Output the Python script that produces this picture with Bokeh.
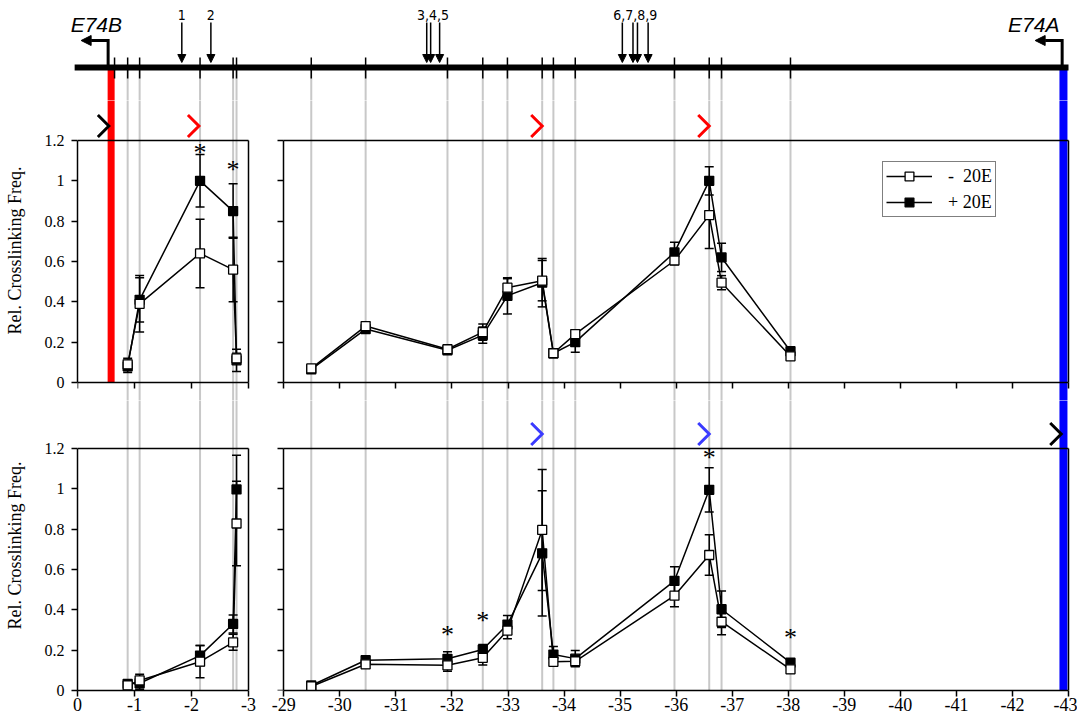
from bokeh.plotting import figure
from bokeh.layouts import column, row
from bokeh.models import (Range1d, LinearAxis, FixedTicker, ColumnDataSource, Whisker,
                          TeeHead, Legend, LegendItem, Arrow, NormalHead)
from bokeh.core.properties import value
from bokeh.embed import file_html
from bokeh.resources import INLINE

# ---------------- data ----------------
# fragment ends (kb) in the left block (near E74B) and the right block (near E74A)
frag_left = [-0.88, -1.09, -2.15, -2.73, -2.79]
frag_right = [-29.49, -30.46, -31.92, -32.55, -32.99, -33.61, -33.81,
              -34.20, -35.97, -36.59, -36.81, -38.04]
extra_map_tick_left = [-0.65]
e74b_promoter = -0.59
e74a_promoter = -42.91
track_start_left = 0.05
track_end_right = -43.0

site_labels = ["1", "2", "3,4,5", "6,7,8,9"]
site_label_pos = [-1.83, -2.34, -31.66, -35.27]
site_label_block = ["L", "L", "R", "R"]
sites_left = [-1.83, -2.34]
sites_right = [-31.55, -31.62, -31.78, -35.04, -35.23, -35.31, -35.50]

# top row (E74B anchor)
tl_minus = [0.09, 0.39, 0.64, 0.56, 0.12]
tl_minus_err = [0.03, 0.14, 0.17, 0.16, 0.025]
tl_plus = [0.08, 0.41, 1.00, 0.85, 0.11]
tl_plus_err = [0.03, 0.11, 0.13, 0.135, 0.055]

tr_minus = [0.07, 0.28, 0.165, 0.25, 0.47, 0.505, 0.145, 0.24, 0.605, 0.83, 0.495, 0.13]
tr_minus_err = [0.01, 0.02, 0.01, 0.04, 0.045, 0.10, 0.02, 0.02, 0.02, 0.165, 0.035, 0.01]
tr_plus = [0.065, 0.265, 0.16, 0.235, 0.43, 0.495, 0.145, 0.20, 0.645, 1.00, 0.62, 0.155]
tr_plus_err = [0.01, 0.02, 0.01, 0.04, 0.09, 0.12, 0.02, 0.05, 0.05, 0.07, 0.07, 0.01]

# bottom row (E74A anchor)
bl_minus = [0.025, 0.05, 0.143, 0.239, 0.828]
bl_minus_err = [0.01, 0.03, 0.08, 0.04, 0.21]
bl_plus = [0.033, 0.036, 0.173, 0.33, 0.997]
bl_plus_err = [0.01, 0.03, 0.05, 0.045, 0.17]

br_minus = [0.02, 0.13, 0.125, 0.162, 0.297, 0.796, 0.142, 0.145, 0.47, 0.672, 0.341, 0.105]
br_minus_err = [0.01, 0.02, 0.03, 0.035, 0.04, 0.30, 0.02, 0.025, 0.055, 0.10, 0.065, 0.02]
br_plus = [0.025, 0.15, 0.157, 0.203, 0.327, 0.68, 0.178, 0.158, 0.544, 0.995, 0.403, 0.138]
br_plus_err = [0.01, 0.02, 0.035, 0.025, 0.045, 0.31, 0.04, 0.04, 0.07, 0.11, 0.09, 0.02]

sig_tl_x = [-2.15, -2.73]
sig_tl_y = [1.15, 1.066]
sig_br_x = [-31.92, -32.55, -36.59, -38.04]
sig_br_y = [0.29, 0.355, 1.163, 0.274]

chev_tl_x = [-0.55, -2.13]
chev_tl_col = ["black", "#ff0000"]
chev_tr_x = [-33.61, -36.59]
chev_tr_col = ["#ff0000", "#ff0000"]
chev_br_x = [-33.61, -36.59, -42.87]
chev_br_col = ["#3b3bff", "#3b3bff", "black"]

y_ticks = [0, 0.2, 0.4, 0.6, 0.8, 1, 1.2]
x_ticks_left = [0, -1, -2, -3]
x_ticks_right = list(range(-29, -44, -1))
legend_labels = ["-\u00a0\u00a020E", "+ 20E"]
y_title = "Rel. Crosslinking Freq."

# ---------------- layout (page pixels) ----------------
TOTAL_W = 1077
SPLIT = 265            # x where left column ends
ROW0_H, ROW1_H, ROW2_H = 100, 300, 318
LX0, LS = 77.0, 57.0      # left block: px of 0 kb, px per kb
RX0, RS = 283.3, 56.05    # right block: px of -29 kb, px per kb
YS = 242 / 1.2            # px per unit of rel. frequency
TOP_ZERO = 382            # page y of y=0 in top row
BOTTOM_AXIS_H = 28
TRACK = 67
TRACK_FRAME_L = 60
GRAY = "#c8c8c8"
SERIF = "Liberation Serif"


def lx(px):
    return (LX0 - px) / LS


def rx(px):
    return -29 - (px - RX0) / RS


def make_fig(w, h, xr, yr, left=0, bottom=0):
    f = figure(width=w, height=h, x_range=xr, y_range=yr, x_axis_type=None, y_axis_type=None,
               toolbar_location=None, output_backend="svg",
               min_border_left=left, min_border_right=0, min_border_top=0,
               min_border_bottom=bottom)
    f.outline_line_color = None
    return f


def add_axis(f, side, loc, bounds, ticks, labels=False, title=None):
    kw = dict(bounds=bounds, ticker=FixedTicker(ticks=ticks))
    if loc is not None:
        kw["fixed_location"] = loc
    ax = LinearAxis(**kw)
    ax.axis_line_width = 1.5
    ax.axis_line_color = "black"
    ax.major_tick_line_width = 1.5
    ax.major_tick_line_color = "black"
    ax.major_tick_out = 6 if ticks else 0
    ax.major_tick_in = 0
    ax.minor_tick_line_color = None
    ax.major_label_text_font = SERIF
    ax.major_label_text_color = "black" if labels else None
    ax.major_label_text_font_size = "18px" if side == "below" else "16px"
    ax.major_label_standoff = 1 if side == "below" else 7
    if side in ("left", "right"):
        ax.major_label_overrides = {0: "0", 1: "1"}
    else:
        ax.major_label_overrides = {tk: str(tk) for tk in ticks}
    if title:
        ax.axis_label = title
        ax.axis_label_text_font = SERIF
        ax.axis_label_text_font_style = "normal"
        ax.axis_label_text_font_size = "18px"
        ax.axis_label_text_color = "black"
        ax.axis_label_standoff = 17
    f.add_layout(ax, side)
    return ax


def series(f, xs, ys, errs, filled):
    src = ColumnDataSource(dict(x=xs, y=ys, lo=[a - e for a, e in zip(ys, errs)],
                                up=[a + e for a, e in zip(ys, errs)]))
    f.add_layout(Whisker(source=src, base="x", upper="up", lower="lo", dimension="height",
                         line_color="black", line_width=1.5,
                         upper_head=TeeHead(size=9, line_width=1.5, line_color="black"),
                         lower_head=TeeHead(size=9, line_width=1.5, line_color="black")))
    lr = f.line("x", "y", source=src, line_color="black", line_width=1.5)
    sr = f.scatter("x", "y", source=src, marker="square", size=9,
                   fill_color=("black" if filled else "white"), line_color="black",
                   line_width=1.3)
    return lr, sr


def chevrons(f, xs, cols, sx):
    cy = 1.2 + 14.5 / YS
    xl = [[x + 11 / sx, x, x + 11 / sx] for x in xs]
    yl = [[cy + 11 / YS, cy, cy - 11 / YS] for _ in xs]
    f.multi_line(xl, yl, line_color=cols, line_width=3, line_join="miter")


def gray_lines(f, xs, y0, y1):
    f.segment(x0=xs, y0=[y0] * len(xs), x1=xs, y1=[y1] * len(xs),
              line_color=GRAY, line_width=2, level="image")


def asterisks(f, xs, ys):
    f.text(x=xs, y=ys, text=["*"] * len(xs), text_font=value(SERIF), text_font_size="26px",
           text_align="center", text_baseline="middle", y_offset=2, text_color="black")


# ================= row 0: gene map =================
t = make_fig(TOTAL_W, ROW0_H, Range1d(lx(TRACK_FRAME_L), lx(TOTAL_W)),
             Range1d(-(ROW0_H - TRACK), TRACK), left=TRACK_FRAME_L)
t.extra_x_ranges = {"R": Range1d(rx(TRACK_FRAME_L), rx(TOTAL_W))}
ybot = -(ROW0_H - TRACK) - 5
t.segment(x0=frag_left, y0=[0] * 5, x1=frag_left, y1=[ybot] * 5, line_color=GRAY,
          line_width=2, level="image")
t.segment(x0=frag_right, y0=[0] * len(frag_right), x1=frag_right, y1=[ybot] * len(frag_right),
          line_color=GRAY, line_width=2, level="image", x_range_name="R")
t.segment(x0=[e74b_promoter], y0=[0], x1=[e74b_promoter], y1=[ybot], line_color="#ff0000",
          line_width=7, line_cap="butt", level="image")
t.segment(x0=[e74a_promoter], y0=[0], x1=[e74a_promoter], y1=[ybot], line_color="#0000ff",
          line_width=8, line_cap="butt", level="image", x_range_name="R")
# the map line runs continuously from the left block start to the right block end
track_start_px = LX0 - LS * track_start_left
t.segment(x0=[rx(track_start_px)], y0=[0], x1=[track_end_right], y1=[0], line_color="black",
          line_width=6, line_cap="butt", x_range_name="R")
tk = frag_left + extra_map_tick_left
t.segment(x0=tk, y0=[-11] * len(tk), x1=tk, y1=[10] * len(tk), line_color="black", line_width=1.5)
t.segment(x0=frag_right, y0=[-11] * len(frag_right), x1=frag_right, y1=[10] * len(frag_right),
          line_color="black", line_width=1.5, x_range_name="R")

vb = e74b_promoter + 3 / LS
t.line([vb, vb, vb + 14 / LS], [0, 27, 27], line_color="black", line_width=3, line_join="miter")
t.add_layout(Arrow(x_start=vb + 10 / LS, y_start=27, x_end=vb + 27 / LS, y_end=27,
                   end=NormalHead(size=10, fill_color="black", line_color="black", line_width=1),
                   line_width=3, line_color="black"))
va = e74a_promoter + 1.3 / RS
t.line([va, va, va + 14 / RS], [0, 27, 27], line_color="black", line_width=3,
       line_join="miter", x_range_name="R")
t.add_layout(Arrow(x_start=va + 10 / RS, y_start=27, x_end=va + 27 / RS, y_end=27,
                   end=NormalHead(size=10, fill_color="black", line_color="black", line_width=1),
                   line_width=3, line_color="black", x_range_name="R"))
t.text(x=[e74b_promoter + 40.5 / LS], y=[43], text=["E74B"],
       text_font=value("Liberation Sans"), text_font_style="italic", text_font_size="21px",
       text_align="left", text_baseline="middle", text_color="black")
t.text(x=[e74a_promoter + 4 / RS], y=[43], text=["E74A"], x_range_name="R",
       text_font=value("Liberation Sans"), text_font_style="italic", text_font_size="21px",
       text_align="right", text_baseline="middle", text_color="black")
for xs, rn in ((sites_left, "default"), (sites_right, "R")):
    for sx in xs:
        t.add_layout(Arrow(x_start=sx, y_start=45, x_end=sx, y_end=5,
                           end=NormalHead(size=8, fill_color="black", line_color="black", line_width=1),
                           line_width=1.5, line_color="black", x_range_name=rn))
for lab, pos, blk in zip(site_labels, site_label_pos, site_label_block):
    t.text(x=[pos], y=[53], text=[lab], x_range_name=("default" if blk == "L" else "R"),
           text_font=value("'Liberation Sans Narrow', 'DejaVu Sans Condensed', sans-serif"),
           text_font_size="14px", text_align="center", text_baseline="middle", text_color="black")

# ================= row 1: E74B anchor =================
top_y0 = ROW0_H
top_yr = (-(top_y0 + ROW1_H - TOP_ZERO) / YS, (TOP_ZERO - top_y0) / YS)

tl = make_fig(SPLIT, ROW1_H, Range1d(lx(LX0), lx(SPLIT)), Range1d(*top_yr), left=int(LX0))
gray_lines(tl, frag_left, top_yr[0] - 0.1, top_yr[1] + 0.1)
tl.segment(x0=[e74b_promoter], y0=[0], x1=[e74b_promoter], y1=[top_yr[1] + 0.1],
           line_color="#ff0000", line_width=7, line_cap="butt", level="image")
chevrons(tl, chev_tl_x, chev_tl_col, LS)
add_axis(tl, "left", None, (0, 1.2), y_ticks, labels=True, title=y_title)
add_axis(tl, "right", -3, (0, 1.2), [])
add_axis(tl, "above", 1.2, (-3, 0), [])
add_axis(tl, "below", 0, (-3, 0), x_ticks_left)
series(tl, frag_left, tl_plus, tl_plus_err, True)
series(tl, frag_left, tl_minus, tl_minus_err, False)
asterisks(tl, sig_tl_x, sig_tl_y)

tr = make_fig(TOTAL_W - SPLIT, ROW1_H, Range1d(rx(SPLIT), rx(TOTAL_W)), Range1d(*top_yr))
gray_lines(tr, frag_right, top_yr[0] - 0.1, top_yr[1] + 0.1)
tr.segment(x0=[e74a_promoter], y0=[top_yr[0] - 0.1], x1=[e74a_promoter], y1=[top_yr[1] + 0.1],
           line_color="#0000ff", line_width=8, line_cap="butt", level="image")
chevrons(tr, chev_tr_x, chev_tr_col, RS)
add_axis(tr, "left", -29, (0, 1.2), y_ticks)
add_axis(tr, "right", -43, (0, 1.2), [])
add_axis(tr, "above", 1.2, (-43, -29), [])
add_axis(tr, "below", 0, (-43, -29), x_ticks_right)
plus_r = series(tr, frag_right, tr_plus, tr_plus_err, True)
minus_r = series(tr, frag_right, tr_minus, tr_minus_err, False)

legend = Legend(items=[LegendItem(label=legend_labels[0], renderers=list(minus_r)),
                       LegendItem(label=legend_labels[1], renderers=list(plus_r))],
                location=(617, 183), orientation="vertical")
legend.label_text_font = SERIF
legend.label_text_font_size = "18px"
legend.label_text_color = "black"
legend.border_line_color = "black"
legend.border_line_width = 1.5
legend.glyph_width = 46
legend.glyph_height = 22
legend.label_height = 22
legend.spacing = 4
legend.padding = 3
legend.margin = 0
legend.label_standoff = 16
legend.background_fill_alpha = 1.0
tr.add_layout(legend)

# ================= row 2: E74A anchor =================
bot_frame_h = ROW2_H - BOTTOM_AXIS_H
bot_yr = (0, bot_frame_h / YS)

bl = make_fig(SPLIT, ROW2_H, Range1d(lx(LX0), lx(SPLIT)), Range1d(*bot_yr),
              left=int(LX0), bottom=BOTTOM_AXIS_H)
gray_lines(bl, frag_left, 0, bot_yr[1] + 0.1)
add_axis(bl, "left", None, (0, 1.2), y_ticks, labels=True, title=y_title)
add_axis(bl, "right", -3, (0, 1.2), [])
add_axis(bl, "above", 1.2, (-3, 0), [])
add_axis(bl, "below", None, (-3, 0), x_ticks_left, labels=True)
series(bl, frag_left, bl_plus, bl_plus_err, True)
series(bl, frag_left, bl_minus, bl_minus_err, False)

br = make_fig(TOTAL_W - SPLIT, ROW2_H, Range1d(rx(SPLIT), rx(TOTAL_W)), Range1d(*bot_yr),
              bottom=BOTTOM_AXIS_H)
gray_lines(br, frag_right, 0, bot_yr[1] + 0.1)
br.segment(x0=[e74a_promoter], y0=[0], x1=[e74a_promoter], y1=[bot_yr[1] + 0.1],
           line_color="#0000ff", line_width=8, line_cap="butt", level="image")
chevrons(br, chev_br_x, chev_br_col, RS)
add_axis(br, "left", -29, (0, 1.2), y_ticks)
add_axis(br, "right", -43, (0, 1.2), [])
add_axis(br, "above", 1.2, (-43, -29), [])
add_axis(br, "below", None, (-43, -29), x_ticks_right, labels=True)
series(br, frag_right, br_plus, br_plus_err, True)
series(br, frag_right, br_minus, br_minus_err, False)
asterisks(br, sig_br_x, sig_br_y)

layout = column(t, row(tl, tr), row(bl, br))
open("out.html", "w").write(file_html(layout, INLINE))
